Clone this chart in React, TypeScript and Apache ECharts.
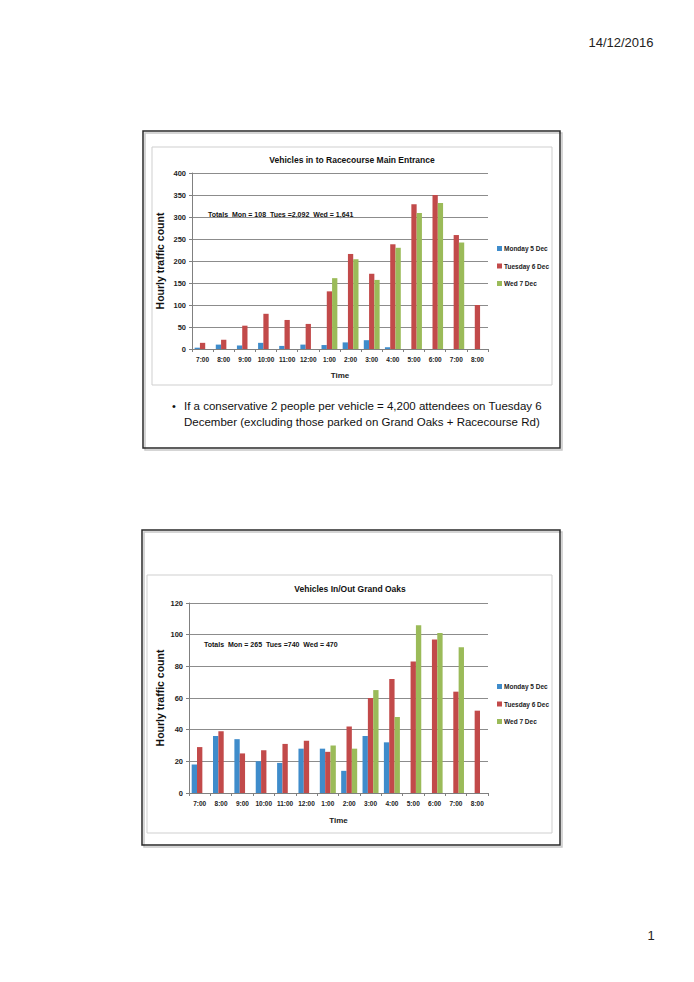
import React, { useEffect, useRef } from "react";
import * as echarts from "echarts";

const categories = ["7:00", "8:00", "9:00", "10:00", "11:00", "12:00", "1:00", "2:00", "3:00", "4:00", "5:00", "6:00", "7:00", "8:00"];
const seriesNames = ["Monday 5 Dec", "Tuesday 6 Dec", "Wed 7 Dec"];
const seriesColors = ["#3f8ccb", "#c24a4a", "#9bbb59"];

const entranceMon = [3, 10, 8, 14, 7, 10, 9, 15, 20, 4, 0, 0, 0, 0];
const entranceTue = [14, 21, 53, 80, 66, 57, 131, 216, 171, 238, 329, 350, 259, 100];
const entranceWed = [0, 0, 0, 0, 0, 0, 161, 204, 157, 230, 309, 332, 242, 0];

const oaksMon = [18, 36, 34, 20, 19, 28, 28, 14, 36, 32, 0, 0, 0, 0];
const oaksTue = [29, 39, 25, 27, 31, 33, 26, 42, 60, 72, 83, 97, 64, 52];
const oaksWed = [0, 0, 0, 0, 0, 0, 30, 28, 65, 48, 106, 101, 92, 0];

const entranceTitle = "Vehicles in to Racecourse Main Entrance";
const oaksTitle = "Vehicles In/Out Grand Oaks";
const entranceTotals = "Totals  Mon = 108  Tues =2,092  Wed = 1,641";
const oaksTotals = "Totals  Mon = 265  Tues =740  Wed = 470";
const yName = "Hourly traffic count";
const xName = "Time";
const bulletLines = [
  "If a conservative 2 people per vehicle = 4,200 attendees on Tuesday 6",
  "December (excluding those parked on Grand Oaks + Racecourse Rd)",
];
const dateText = "14/12/2016";
const pageText = "1";

const SANS = '"Liberation Sans", Arial, sans-serif';

function makeAxes(idx: number, max: number, interval: number) {
  const x = {
    type: "category",
    gridIndex: idx,
    data: categories,
    name: xName,
    nameLocation: "middle",
    nameGap: idx === 0 ? 22 : 23,
    nameTextStyle: { fontFamily: SANS, fontWeight: "bold", fontSize: 8, color: "#222" },
    axisLine: { lineStyle: { color: "#808080", width: 1 } },
    axisTick: { show: true, length: 3, lineStyle: { color: "#808080" } },
    axisLabel: { interval: 0, margin: 7, fontFamily: SANS, fontWeight: "bold", fontSize: 6.5, color: "#222" },
  };
  const y = {
    type: "value",
    gridIndex: idx,
    min: 0,
    max,
    interval,
    name: yName,
    nameLocation: "middle",
    nameRotate: 90,
    nameGap: idx === 0 ? 27 : 24,
    nameTextStyle: { fontFamily: SANS, fontWeight: "bold", fontSize: 10.5, color: "#111" },
    axisLine: { show: true, lineStyle: { color: "#808080", width: 1 } },
    axisTick: { show: true, length: 3, lineStyle: { color: "#808080" } },
    axisLabel: { margin: 6, fontFamily: SANS, fontWeight: "bold", fontSize: 7.5, color: "#222" },
    splitLine: { show: true, lineStyle: { color: "#8c8c8c", width: 1 } },
  };
  return { x, y };
}

function makeSeries(idx: number, data: number[][]) {
  return data.map((d, i) => ({
    type: "bar",
    name: seriesNames[i],
    xAxisIndex: idx,
    yAxisIndex: idx,
    data: d,
    barGap: "0%",
    barCategoryGap: "25%",
    itemStyle: { color: seriesColors[i] },
  }));
}

export default function App() {
  const ref = useRef<HTMLDivElement>(null);
  useEffect(() => {
    if (!ref.current) return;
    const chart = echarts.init(ref.current, undefined, { renderer: "svg" });
    const a0 = makeAxes(0, 400, 50);
    const a1 = makeAxes(1, 120, 20);
    const legendBase = {
      orient: "vertical",
      left: 497,
      padding: 0,
      itemWidth: 5,
      itemHeight: 5,
      itemGap: 10.5,
      icon: "rect",
      data: seriesNames,
      textStyle: { fontFamily: SANS, fontWeight: "bold", fontSize: 6.5, color: "#222", padding: [0, 0, 0, -3] },
    };
    const option: any = {
      animation: false,
      backgroundColor: "#ffffff",
      grid: [
        { left: 192, top: 173, width: 296, height: 176, containLabel: false },
        { left: 189, top: 603, width: 299, height: 190, containLabel: false },
      ],
      xAxis: [a0.x, a1.x],
      yAxis: [a0.y, a1.y],
      legend: [
        { ...legendBase, top: 245 },
        { ...legendBase, top: 683 },
      ],
      series: [
        ...makeSeries(0, [entranceMon, entranceTue, entranceWed]),
        ...makeSeries(1, [oaksMon, oaksTue, oaksWed]),
      ],
      graphic: [
        // slide frames
        { type: "rect", shape: { x: 145, y: 133, width: 417, height: 317 }, style: { fill: "none", stroke: "#c8c8c8", lineWidth: 1.5 }, silent: true },
        { type: "rect", shape: { x: 143, y: 131, width: 417, height: 317 }, style: { fill: "none", stroke: "#2a2a2a", lineWidth: 1.5 }, silent: true },
        { type: "rect", shape: { x: 152, y: 147, width: 400, height: 238 }, style: { fill: "none", stroke: "#cfcfcf", lineWidth: 1 }, silent: true },
        { type: "rect", shape: { x: 144, y: 532, width: 418, height: 315 }, style: { fill: "none", stroke: "#c8c8c8", lineWidth: 1.5 }, silent: true },
        { type: "rect", shape: { x: 142, y: 530, width: 418, height: 315 }, style: { fill: "none", stroke: "#2a2a2a", lineWidth: 1.5 }, silent: true },
        { type: "rect", shape: { x: 147, y: 575, width: 405, height: 258 }, style: { fill: "none", stroke: "#cfcfcf", lineWidth: 1 }, silent: true },
        // titles
        { type: "text", x: 352, y: 160, style: { text: entranceTitle, fontFamily: SANS, fontWeight: "bold", fontSize: 8.5, fill: "#111", align: "center", verticalAlign: "middle" } },
        { type: "text", x: 350, y: 589, style: { text: oaksTitle, fontFamily: SANS, fontWeight: "bold", fontSize: 8.5, fill: "#111", align: "center", verticalAlign: "middle" } },
        // totals
        { type: "text", x: 208, y: 214, style: { text: entranceTotals, fontFamily: SANS, fontWeight: "bold", fontSize: 7, fill: "#111", align: "left", verticalAlign: "middle" } },
        { type: "text", x: 204, y: 644, style: { text: oaksTotals, fontFamily: SANS, fontWeight: "bold", fontSize: 7, fill: "#111", align: "left", verticalAlign: "middle" } },
        // bullet
        { type: "text", x: 172, y: 406, style: { text: "\u2022", fontFamily: SANS, fontSize: 11, fill: "#111", align: "left", verticalAlign: "middle" } },
        { type: "text", x: 184, y: 406, style: { text: bulletLines[0], fontFamily: SANS, fontSize: 11.5, fill: "#111", align: "left", verticalAlign: "middle" } },
        { type: "text", x: 184, y: 422, style: { text: bulletLines[1], fontFamily: SANS, fontSize: 11.5, fill: "#111", align: "left", verticalAlign: "middle" } },
        // header / footer
        { type: "text", x: 621, y: 42, style: { text: dateText, fontFamily: SANS, fontSize: 13, fill: "#222", align: "center", verticalAlign: "middle" } },
        { type: "text", x: 651, y: 935, style: { text: pageText, fontFamily: SANS, fontSize: 13, fill: "#222", align: "center", verticalAlign: "middle" } },
      ],
    };
    chart.setOption(option);
    return () => chart.dispose();
  }, []);
  return (
    <div
      ref={ref}
      style={{ position: "fixed", left: 0, top: 0, width: 694, height: 982, background: "#fff" }}
    />
  );
}
